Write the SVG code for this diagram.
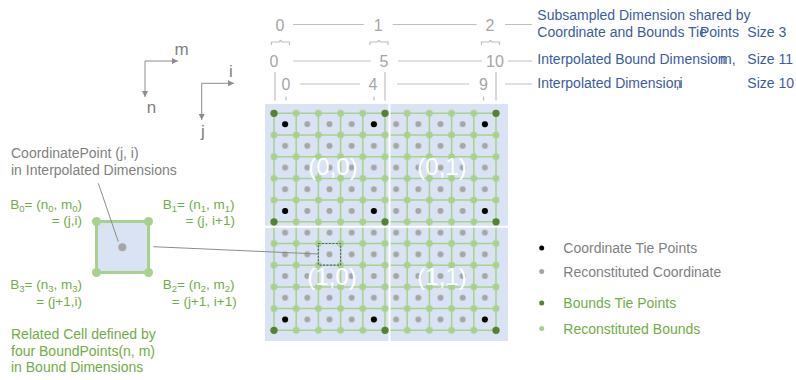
<svg xmlns="http://www.w3.org/2000/svg" width="796" height="380" viewBox="0 0 796 380">
<style>
text{font-family:"Liberation Sans",Arial,sans-serif}
.dig{font-size:16px;fill:#a6a6a6;text-anchor:middle}
.gl{stroke:#bfbfbf;stroke-width:1.2;fill:none}
.blue{font-size:14px;fill:#3b5ba5}
.ax{stroke:#8c8c8c;stroke-width:1;fill:none}
.axt{font-size:17px;fill:#7f7f7f;text-anchor:middle}
.gray{font-size:14px;fill:#7f7f7f}
.green{font-size:13.5px;fill:#70ad47}
.green14{font-size:14px;fill:#70ad47}
.sub{font-size:9.5px}
.quad{font-size:24px;fill:#ffffff;text-anchor:middle}
.gridln{stroke:#a9d18e;stroke-width:1.5;fill:none}
.ctp{fill:#000000}
.btp{fill:#548235}
.rc{fill:#a6a6a6}
.rb{fill:#a9d18e}
</style>
<defs>
<marker id="arr" viewBox="0 0 6 6" refX="6" refY="3" markerWidth="6" markerHeight="6" markerUnits="userSpaceOnUse" orient="auto"><path d="M0,0 L6,3 L0,6 z" fill="#8c8c8c"/></marker>
<pattern id="coordPat" patternUnits="userSpaceOnUse" x="274" y="113.3" width="22.2" height="21.7"><circle cx="11.1" cy="10.85" r="3" class="rc"/></pattern>
<pattern id="boundPat" patternUnits="userSpaceOnUse" x="262.9" y="102.45" width="22.2" height="21.7"><circle cx="11.1" cy="10.85" r="3.4" class="rb"/></pattern>
</defs>
<rect width="796" height="380" fill="#ffffff"/>

<g id="axes">
<path class="ax" d="M145,61 H178" marker-end="url(#arr)"/>
<path class="ax" d="M145,61 V97" marker-end="url(#arr)"/>
<text class="axt" x="181.5" y="54.5">m</text>
<text class="axt" x="151.5" y="113">n</text>
<path class="ax" d="M201.7,83.3 H234" marker-end="url(#arr)"/>
<path class="ax" d="M201.7,83.3 V120" marker-end="url(#arr)"/>
<text class="axt" x="231" y="77">i</text>
<text class="axt" x="203" y="136.5">j</text>
</g>

<g id="dimension-labels">
<text class="dig" x="280" y="30.5">0</text>
<text class="dig" x="378.3" y="30.5">1</text>
<text class="dig" x="490" y="30.5">2</text>
<path class="gl" d="M293,24.5H364 M392.7,24.5H476.7 M505,24.5H532"/>
<path class="gl" d="M271.5,45V42H279L280.5,40.3L282,42H289.5V45 M370,45V42H377.5L379,40.3L380.5,42H388V45 M481.5,45V42H489L490.5,40.3L492,42H499.5V45"/>
<text class="dig" x="274" y="66.7">0</text>
<text class="dig" x="384" y="66.7">5</text>
<text class="dig" x="495" y="66.7">10</text>
<path class="gl" d="M293,61H371 M398,61H482 M508,61H532"/>
<text class="dig" x="286" y="89.5">0</text>
<text class="dig" x="373" y="89.5">4</text>
<text class="dig" x="483.5" y="89.5">9</text>
<path class="gl" d="M300,84H360 M397,84H469 M505,84H532"/>
<path class="gl" d="M275,72V100.5 M385,72V100.5 M496,72V100.5 M286,96.5V100.5 M374,96.5V100.5 M483.5,96.5V100.5"/>
<text class="blue" x="537.3" y="20">Subsampled Dimension shared by</text>
<text class="blue" x="537.3" y="36.5">Coordinate and Bounds Tie</text>
<text class="blue" x="700" y="36.5">Points</text>
<text class="blue" x="747.3" y="36.5">Size 3</text>
<text class="blue" x="537.3" y="64">Interpolated Bound Dimension</text>
<text class="blue" x="720" y="64">m,</text>
<text class="blue" x="747.3" y="64">Size 11</text>
<text class="blue" x="537.3" y="88.3">Interpolated Dimension</text>
<text class="blue" x="675.5" y="88.3">,i</text>
<text class="blue" x="747.3" y="88.3">Size 10</text>
</g>

<g id="grid">
<rect x="265" y="104" width="243" height="237" fill="#dae3f3"/>
<path class="gridln" d="M274,113.3V330.3 M296.2,113.3V330.3 M318.4,113.3V330.3 M340.6,113.3V330.3 M362.8,113.3V330.3 M385,113.3V330.3 M407.2,113.3V330.3 M429.4,113.3V330.3 M451.6,113.3V330.3 M473.8,113.3V330.3 M496,113.3V330.3 M274,113.3H496 M274,135H496 M274,156.7H496 M274,178.4H496 M274,200.1H496 M274,221.8H496 M274,243.5H496 M274,265.2H496 M274,286.9H496 M274,308.6H496 M274,330.3H496"/>
<path d="M389.5,102V344 M262,226.8H510" stroke="#ffffff" stroke-width="2"/>
<rect x="274" y="113.3" width="222" height="217" fill="url(#coordPat)"/>
<rect x="262.9" y="102.45" width="244.2" height="238.7" fill="url(#boundPat)"/>
<g>
<circle class="ctp" cx="285.1" cy="124.15" r="3"/><circle class="ctp" cx="373.9" cy="124.15" r="3"/><circle class="ctp" cx="484.9" cy="124.15" r="3"/>
<circle class="ctp" cx="285.1" cy="210.95" r="3"/><circle class="ctp" cx="373.9" cy="210.95" r="3"/><circle class="ctp" cx="484.9" cy="210.95" r="3"/>
<circle class="ctp" cx="285.1" cy="319.45" r="3"/><circle class="ctp" cx="373.9" cy="319.45" r="3"/><circle class="ctp" cx="484.9" cy="319.45" r="3"/>
</g>
<g>
<circle class="btp" cx="274" cy="113.3" r="3.6"/><circle class="btp" cx="385" cy="113.3" r="3.6"/><circle class="btp" cx="496" cy="113.3" r="3.6"/>
<circle class="btp" cx="274" cy="221.8" r="3.6"/><circle class="btp" cx="385" cy="221.8" r="3.6"/><circle class="btp" cx="496" cy="221.8" r="3.6"/>
<circle class="btp" cx="274" cy="330.3" r="3.6"/><circle class="btp" cx="385" cy="330.3" r="3.6"/><circle class="btp" cx="496" cy="330.3" r="3.6"/>
</g>
<rect x="318.4" y="243.5" width="22.2" height="21.7" fill="none" stroke="#4a6480" stroke-width="1.2" stroke-dasharray="2 1.5"/>
<text class="quad" x="333" y="175">(0,0)</text>
<text class="quad" x="442" y="175">(0,1)</text>
<text class="quad" x="332" y="285">(1,0)</text>
<text class="quad" x="442" y="285">(1,1)</text>
</g>

<g id="cell">
<text class="gray" x="11" y="158.3">CoordinatePoint (j, i)</text>
<text class="gray" x="11" y="175">in Interpolated Dimensions</text>
<rect x="96.5" y="221.5" width="52" height="51" fill="#dae3f3" stroke="#a9d18e" stroke-width="3"/>
<circle class="rb" cx="96.5" cy="221.5" r="4.5"/>
<circle class="rb" cx="148.5" cy="221.5" r="4.5"/>
<circle class="rb" cx="148.5" cy="272.5" r="4.5"/>
<circle class="rb" cx="96.5" cy="272.5" r="4.5"/>
<circle class="rc" cx="122.3" cy="247.3" r="4"/>
<text class="green" x="82" y="208.5" text-anchor="end">B<tspan class="sub" dy="3">0</tspan><tspan dy="-3">= (n</tspan><tspan class="sub" dy="3">0</tspan><tspan dy="-3">, m</tspan><tspan class="sub" dy="3">0</tspan><tspan dy="-3">)</tspan></text>
<text class="green" x="82" y="225" text-anchor="end">= (j,i)</text>
<text class="green" x="162.7" y="208.5">B<tspan class="sub" dy="3">1</tspan><tspan dy="-3">= (n</tspan><tspan class="sub" dy="3">1</tspan><tspan dy="-3">, m</tspan><tspan class="sub" dy="3">1</tspan><tspan dy="-3">)</tspan></text>
<text class="green" x="235" y="225" text-anchor="end">= (j, i+1)</text>
<text class="green" x="82" y="288.5" text-anchor="end">B<tspan class="sub" dy="3">3</tspan><tspan dy="-3">= (n</tspan><tspan class="sub" dy="3">3</tspan><tspan dy="-3">, m</tspan><tspan class="sub" dy="3">3</tspan><tspan dy="-3">)</tspan></text>
<text class="green" x="82" y="305.5" text-anchor="end">= (j+1,i)</text>
<text class="green" x="162.7" y="288.5">B<tspan class="sub" dy="3">2</tspan><tspan dy="-3">= (n</tspan><tspan class="sub" dy="3">2</tspan><tspan dy="-3">, m</tspan><tspan class="sub" dy="3">2</tspan><tspan dy="-3">)</tspan></text>
<text class="green" x="236.7" y="305.5" text-anchor="end">= (j+1, i+1)</text>
<text class="green14" x="11" y="339">Related Cell defined by</text>
<text class="green14" x="11" y="355.5">four BoundPoints(n, m)</text>
<text class="green14" x="11" y="372">in Bound Dimensions</text>
</g>

<g id="connectors">
<path d="M98.3,183.3 L118.3,241.7" stroke="#8c8c8c" stroke-width="1" fill="none"/>
<path d="M153.3,246.7 L318.4,254" stroke="#8c8c8c" stroke-width="1" fill="none"/>
</g>

<g id="legend">
<circle class="ctp" cx="541.7" cy="248" r="2.5"/>
<text class="gray" x="563.3" y="253">Coordinate Tie Points</text>
<circle class="rc" cx="541.7" cy="271.5" r="2.5"/>
<text class="gray" x="563.3" y="276.5">Reconstituted Coordinate</text>
<circle class="btp" cx="541.7" cy="303" r="2.5"/>
<text class="green14" x="563.3" y="308">Bounds Tie Points</text>
<circle class="rb" cx="541.7" cy="328.5" r="2.5"/>
<text class="green14" x="563.3" y="334">Reconstituted Bounds</text>
</g>
</svg>
